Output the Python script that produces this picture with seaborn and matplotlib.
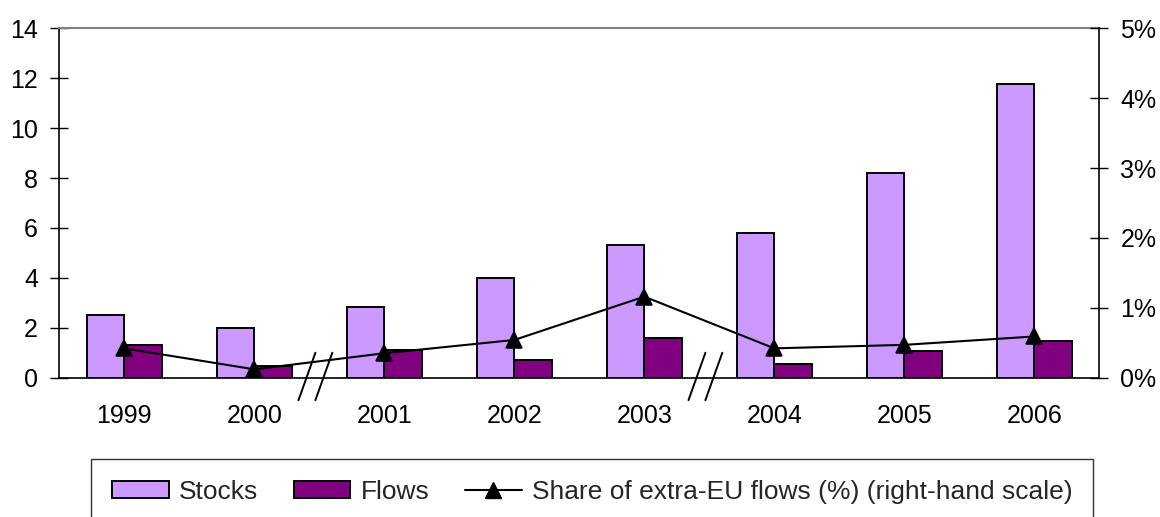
import matplotlib
matplotlib.use("Agg")
import matplotlib.pyplot as plt
from matplotlib.patches import Patch
from matplotlib.lines import Line2D
from matplotlib.ticker import FixedLocator, FuncFormatter
import numpy as np
import pandas as pd
import seaborn as sns

# ---- data ----
years = ["1999", "2000", "2001", "2002", "2003", "2004", "2005", "2006"]
stocks = [2.5, 2.0, 2.85, 4.0, 5.3, 5.78, 8.22, 11.75]
flows = [1.32, 0.48, 1.11, 0.72, 1.58, 0.56, 1.07, 1.48]
share_pct = [0.42, 0.12, 0.35, 0.54, 1.16, 0.42, 0.47, 0.59]
series_names = ["Stocks", "Flows", "Share of extra-EU flows (%) (right-hand scale)"]
left_ticks = [0, 2, 4, 6, 8, 10, 12, 14]
right_ticks = [0, 1, 2, 3, 4, 5]
breaks_after = ["2000", "2003"]

c_stocks = "#CC99FF"
c_flows = "#800080"

sns.set_theme(style="white")
plt.rcParams["font.family"] = ["Liberation Sans", "DejaVu Sans"]

df = pd.DataFrame({
    "year": years * 2,
    "value": stocks + flows,
    "series": [series_names[0]] * len(years) + [series_names[1]] * len(years),
})

fig = plt.figure(figsize=(11.6, 5.17), dpi=100)
ax = fig.add_axes([59.3 / 1160, 1 - 377.7 / 517, (1099.3 - 59.3) / 1160, (377.7 - 28.3) / 517])

sns.barplot(data=df, x="year", y="value", hue="series", order=years,
            hue_order=series_names[:2], palette=[c_stocks, c_flows],
            width=0.58, gap=0, saturation=1, edgecolor="black", linewidth=1.4,
            legend=False, ax=ax)

ax2 = ax.twinx()
sns.pointplot(x=years, y=share_pct, order=years, ax=ax2, color="black",
              markers="^", markersize=11, linewidth=1.5, linestyles="-")

n = len(years)
ax.set_xlim(-0.5, n - 0.5)
ax.set_ylim(0, 14)
ax2.set_ylim(0, 5)

ax.set_xlabel("")
ax.set_ylabel("")
ax2.set_xlabel("")
ax2.set_ylabel("")

ax.yaxis.set_major_locator(FixedLocator(left_ticks))
ax2.yaxis.set_major_locator(FixedLocator(right_ticks))
ax2.yaxis.set_major_formatter(FuncFormatter(lambda v, p: f"{int(v)}%"))

ax.set_xticks(range(n))
ax.set_xticklabels(years)
ax.set_xticks(np.arange(n + 1) - 0.5, minor=True)

fs = 18
ax.tick_params(axis="x", which="major", length=0, pad=19, labelsize=fs, colors="black")
ax.tick_params(axis="x", which="minor", direction="inout", length=13, width=1, color="black")
ax.tick_params(axis="y", which="major", direction="inout", length=12.5, width=1, pad=9,
               labelsize=fs, colors="black", left=True)
ax2.tick_params(axis="y", which="major", direction="inout", length=12.5, width=1, pad=9,
                labelsize=fs, colors="black", right=True)
ax2.tick_params(axis="x", which="both", length=0, labelbottom=False)

for sp in ["left", "bottom"]:
    ax.spines[sp].set_color("black")
    ax.spines[sp].set_linewidth(1.2)
ax.spines["right"].set_visible(False)
ax.spines["top"].set_color("#808080")
ax.spines["top"].set_linewidth(1.5)
for sp in ["left", "bottom", "top"]:
    ax2.spines[sp].set_visible(False)
ax2.spines["right"].set_color("black")
ax2.spines["right"].set_linewidth(1.2)

# axis-break marks
for b in breaks_after:
    xb = years.index(b) + 0.5
    for off in (-0.095, 0.035):
        ax.plot([xb + off - 0.065, xb + off + 0.065], [-0.9, 1.0], color="black",
                lw=1.4, clip_on=False, zorder=5)

handles = [
    Patch(facecolor=c_stocks, edgecolor="black", linewidth=1.4),
    Patch(facecolor=c_flows, edgecolor="black", linewidth=1.4),
    Line2D([], [], color="black", lw=1.5, marker="^", markersize=11),
]
leg = fig.legend(handles, series_names, ncol=3, loc="upper left",
                 bbox_to_anchor=(91 / 1160, 1 - 459 / 517), frameon=True,
                 fancybox=False, edgecolor="black", borderpad=0.8,
                 handlelength=2.15, handleheight=0.6, handletextpad=0.38,
                 columnspacing=1.35, fontsize=19, borderaxespad=0)
leg.get_frame().set_linewidth(1.0)

fig.savefig("out.png", dpi=100, facecolor="white")
